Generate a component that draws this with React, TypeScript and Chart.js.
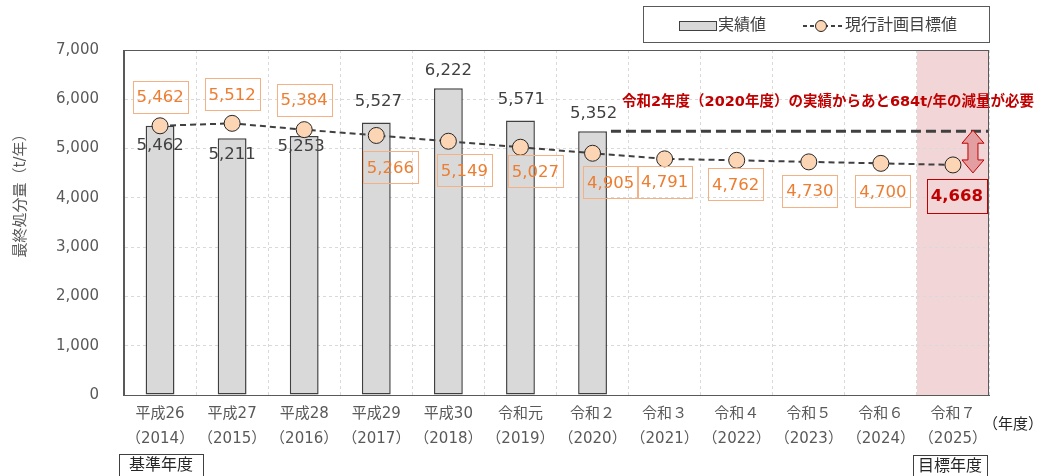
import React, { useEffect, useRef } from 'react';
import { Chart, registerables } from 'chart.js';

Chart.register(...registerables);

const FONT = '"DejaVu Sans", "Noto Sans CJK JP", sans-serif';

// ---- data ----
const eraLabels = ['平成26', '平成27', '平成28', '平成29', '平成30', '令和元', '令和２', '令和３', '令和４', '令和５', '令和６', '令和７'];
const yearLabels = ['（2014）', '（2015）', '（2016）', '（2017）', '（2018）', '（2019）', '（2020）', '（2021）', '（2022）', '（2023）', '（2024）', '（2025）'];
const actualValues: (number | null)[] = [5462, 5211, 5253, 5527, 6222, 5571, 5352, null, null, null, null, null];
const targetValues = [5462, 5512, 5384, 5266, 5149, 5027, 4905, 4791, 4762, 4730, 4700, 4668];
const yTickValues = [0, 1000, 2000, 3000, 4000, 5000, 6000, 7000];

const actualLegend = '実績値';
const targetLegend = '現行計画目標値';
const yTitle = '最終処分量（t/年）';
const xUnit = '（年度）';
const baseYearNote = '基準年度';
const targetYearNote = '目標年度';
const latestActualIndex = 6;
const targetIndex = 11;
const gapValue = (actualValues[latestActualIndex] as number) - targetValues[targetIndex];
const gapNote = `令和2年度（2020年度）の実績からあと${gapValue}t/年の減量が必要`;

// label placement (pixels relative to marks)
const barLabelPlace: [number, number][] = [[0, 20], [0, 17], [-3, 11], [2, -21], [0, -18], [1, -21], [1, -18]];
const lineLabelPlace: [number, number][] = [[0, -29], [0, -29], [0, -29.5], [14, 32], [16, 29], [15, 24], [18, 29], [0, 23], [-1, 24], [1, 29], [2, 28], [4, 31]];

const PINK = '#f2d5d6';
const fmt = (v: number) => v.toLocaleString('en-US');

const overlay = {
  id: 'overlay',
  beforeDraw(chart: any) {
    const { ctx, chartArea: a, scales } = chart;
    const x = scales.x;
    const half = (x.getPixelForValue(1) - x.getPixelForValue(0)) / 2;
    const cx = x.getPixelForValue(targetIndex);
    ctx.save();
    ctx.fillStyle = PINK;
    ctx.fillRect(cx - half, a.top, a.right - (cx - half), a.bottom - a.top);
    ctx.restore();
  },
  afterDatasetsDraw(chart: any) {
    const { ctx, chartArea: a, scales } = chart;
    const x = scales.x;
    const y = scales.y;

    // dashed reference line at latest actual
    const barMeta = chart.getDatasetMeta(0);
    const lastBar = barMeta.data[latestActualIndex];
    const refY = y.getPixelForValue(actualValues[latestActualIndex] as number);
    ctx.save();
    ctx.strokeStyle = '#404040';
    ctx.lineWidth = 3;
    ctx.setLineDash([10, 5]);
    ctx.beginPath();
    ctx.moveTo(lastBar.x + lastBar.width / 2 + 4, refY);
    ctx.lineTo(a.right, refY);
    ctx.stroke();
    ctx.restore();

    // double arrow
    const tcx = x.getPixelForValue(targetIndex);
    const ax = tcx + 20;
    const top = refY - 1;
    const bot = y.getPixelForValue(targetValues[targetIndex]) + 8;
    const hw = 11, sw = 5, hl = 13;
    ctx.save();
    ctx.beginPath();
    ctx.moveTo(ax, top);
    ctx.lineTo(ax + hw, top + hl);
    ctx.lineTo(ax + sw, top + hl);
    ctx.lineTo(ax + sw, bot - hl);
    ctx.lineTo(ax + hw, bot - hl);
    ctx.lineTo(ax, bot);
    ctx.lineTo(ax - hw, bot - hl);
    ctx.lineTo(ax - sw, bot - hl);
    ctx.lineTo(ax - sw, top + hl);
    ctx.lineTo(ax - hw, top + hl);
    ctx.closePath();
    ctx.fillStyle = '#e39ea1';
    ctx.fill();
    ctx.strokeStyle = '#c00000';
    ctx.lineWidth = 1;
    ctx.stroke();
    ctx.restore();

    // annotation text
    ctx.save();
    ctx.font = `bold 14.5px ${FONT}`;
    ctx.fillStyle = '#c00000';
    ctx.textAlign = 'left';
    ctx.textBaseline = 'middle';
    ctx.fillText(gapNote, lastBar.x + lastBar.width / 2 + 15, refY - 29);
    ctx.restore();

    // bar labels
    ctx.save();
    ctx.font = `16.5px ${FONT}`;
    ctx.fillStyle = '#404040';
    ctx.textAlign = 'center';
    ctx.textBaseline = 'middle';
    barMeta.data.forEach((el: any, i: number) => {
      const v = actualValues[i];
      if (v == null) return;
      const [dx, dy] = barLabelPlace[i];
      ctx.fillText(fmt(v), el.x + dx, el.y + dy);
    });
    ctx.restore();

    // line labels in boxes
    const lineMeta = chart.getDatasetMeta(1);
    ctx.save();
    ctx.textAlign = 'center';
    ctx.textBaseline = 'middle';
    lineMeta.data.forEach((el: any, i: number) => {
      const isTarget = i === targetIndex;
      const [dx, dy] = lineLabelPlace[i];
      const cx = el.x + dx;
      const cy = el.y + dy;
      ctx.font = isTarget ? `bold 16.5px ${FONT}` : `16.5px ${FONT}`;
      const txt = fmt(targetValues[i]);
      const w = Math.round(ctx.measureText(txt).width + (isTarget ? 8 : 8));
      const h = isTarget ? 34 : 32;
      const bx = Math.round(cx - w / 2) + 0.5;
      const by = Math.round(cy - h / 2) + 0.5;
      if (isTarget) {
        ctx.fillStyle = PINK;
        ctx.fillRect(bx, by, w, h);
      }
      ctx.strokeStyle = isTarget ? '#c00000' : '#f4b183';
      ctx.lineWidth = 1;
      ctx.strokeRect(bx, by, w, h);
      ctx.fillStyle = isTarget ? '#c00000' : '#ed7d31';
      ctx.fillText(txt, cx, cy + 1);
    });
    ctx.restore();

    // plot frame
    ctx.save();
    ctx.strokeStyle = '#595959';
    ctx.lineWidth = 1;
    ctx.strokeRect(Math.round(a.left) - 0.5, Math.round(a.top) + 0.5, Math.round(a.right - a.left), Math.round(a.bottom - a.top));
    ctx.restore();
  },
  afterDraw(chart: any) {
    const { ctx, chartArea: a, scales } = chart;
    const x = scales.x;

    // legend
    ctx.save();
    ctx.fillStyle = '#ffffff';
    ctx.fillRect(643.5, 6.5, 346, 36);
    ctx.strokeStyle = '#595959';
    ctx.lineWidth = 1;
    ctx.strokeRect(643.5, 6.5, 346, 36);
    ctx.fillStyle = '#d9d9d9';
    ctx.fillRect(679.5, 21.5, 37, 9);
    ctx.strokeStyle = '#404040';
    ctx.strokeRect(679.5, 21.5, 37, 9);
    ctx.font = `16px ${FONT}`;
    ctx.fillStyle = '#404040';
    ctx.textAlign = 'left';
    ctx.textBaseline = 'middle';
    ctx.fillText(actualLegend, 718, 26);
    ctx.strokeStyle = '#404040';
    ctx.lineWidth = 2;
    ctx.setLineDash([4, 3]);
    ctx.beginPath();
    ctx.moveTo(803, 26);
    ctx.lineTo(843, 26);
    ctx.stroke();
    ctx.setLineDash([]);
    ctx.beginPath();
    ctx.arc(821, 26, 5.5, 0, Math.PI * 2);
    ctx.fillStyle = '#fcd5b4';
    ctx.fill();
    ctx.lineWidth = 1;
    ctx.strokeStyle = '#262626';
    ctx.stroke();
    ctx.fillStyle = '#404040';
    ctx.fillText(targetLegend, 845, 26);
    ctx.restore();

    // y title
    ctx.save();
    ctx.translate(21, 192);
    ctx.rotate(-Math.PI / 2);
    ctx.font = `15px ${FONT}`;
    ctx.fillStyle = '#595959';
    ctx.textAlign = 'center';
    ctx.textBaseline = 'middle';
    ctx.fillText(yTitle, 0, 0);
    ctx.restore();

    // x unit
    ctx.save();
    ctx.font = `15px ${FONT}`;
    ctx.fillStyle = '#262626';
    ctx.textAlign = 'left';
    ctx.textBaseline = 'middle';
    ctx.fillText(xUnit, a.right - 6, 425);
    ctx.restore();

    // notes
    const note = (txt: string, cx: number, cy: number, w: number) => {
      ctx.save();
      ctx.strokeStyle = '#404040';
      ctx.lineWidth = 1;
      ctx.strokeRect(Math.round(cx - w / 2) + 0.5, Math.round(cy - 11) + 0.5, w, 23);
      ctx.font = `16px ${FONT}`;
      ctx.fillStyle = '#262626';
      ctx.textAlign = 'center';
      ctx.textBaseline = 'middle';
      ctx.fillText(txt, cx, cy + 1);
      ctx.restore();
    };
    note(baseYearNote, x.getPixelForValue(0) + 1, 465, 84);
    note(targetYearNote, x.getPixelForValue(targetIndex) - 3, 466, 74);
  },
};

export default function App() {
  const ref = useRef<HTMLCanvasElement | null>(null);
  useEffect(() => {
    document.body.style.margin = '0';
    if (!ref.current) return;
    Chart.defaults.font.family = FONT;
    const chart = new Chart(ref.current, {
      type: 'bar',
      data: {
        labels: eraLabels.map((e, i) => [e, yearLabels[i]]),
        datasets: [
          {
            type: 'bar',
            label: actualLegend,
            data: actualValues,
            backgroundColor: '#d9d9d9',
            borderColor: '#404040',
            borderWidth: 1.5,
            borderSkipped: false,
            barPercentage: 0.4,
            categoryPercentage: 1,
            order: 1,
          },
          {
            type: 'line',
            label: targetLegend,
            data: targetValues,
            borderColor: '#404040',
            borderWidth: 2,
            borderDash: [6, 4],
            pointRadius: 8,
            pointBackgroundColor: '#fcd5b4',
            pointBorderColor: '#262626',
            pointBorderWidth: 1,
            tension: 0,
            order: 0,
          },
        ] as any,
      },
      options: {
        responsive: false,
        animation: false,
        layout: { padding: { top: 50, right: 57, left: 0, bottom: 0 } },
        plugins: { legend: { display: false }, tooltip: { enabled: false } },
        scales: {
          x: {
            offset: true,
            grid: { color: '#d9d9d9', drawTicks: false, offset: true },
            border: { display: true, color: '#595959', dash: [3, 3] },
            ticks: {
              color: '#595959',
              font: { family: FONT, size: 15, lineHeight: 1.667 },
              padding: 7,
              maxRotation: 0,
              autoSkip: false,
            },
            afterFit: (s: any) => {
              s.height = 81;
            },
          },
          y: {
            min: 0,
            max: 7000,
            grid: { color: '#d9d9d9', drawTicks: false },
            border: { display: true, color: '#595959', dash: [3, 3] },
            ticks: {
              color: '#595959',
              font: { family: FONT, size: 15 },
              padding: 25,
              callback: (v: any) => fmt(Number(v)),
            },
            afterBuildTicks: (s: any) => {
              s.ticks = yTickValues.map((v) => ({ value: v }));
            },
            afterFit: (s: any) => {
              s.width = 124;
            },
          },
        },
      },
      plugins: [overlay],
    });
    return () => chart.destroy();
  }, []);
  return (
    <div style={{ width: 1046, height: 476 }}>
      <canvas ref={ref} width={1046} height={476} />
    </div>
  );
}
